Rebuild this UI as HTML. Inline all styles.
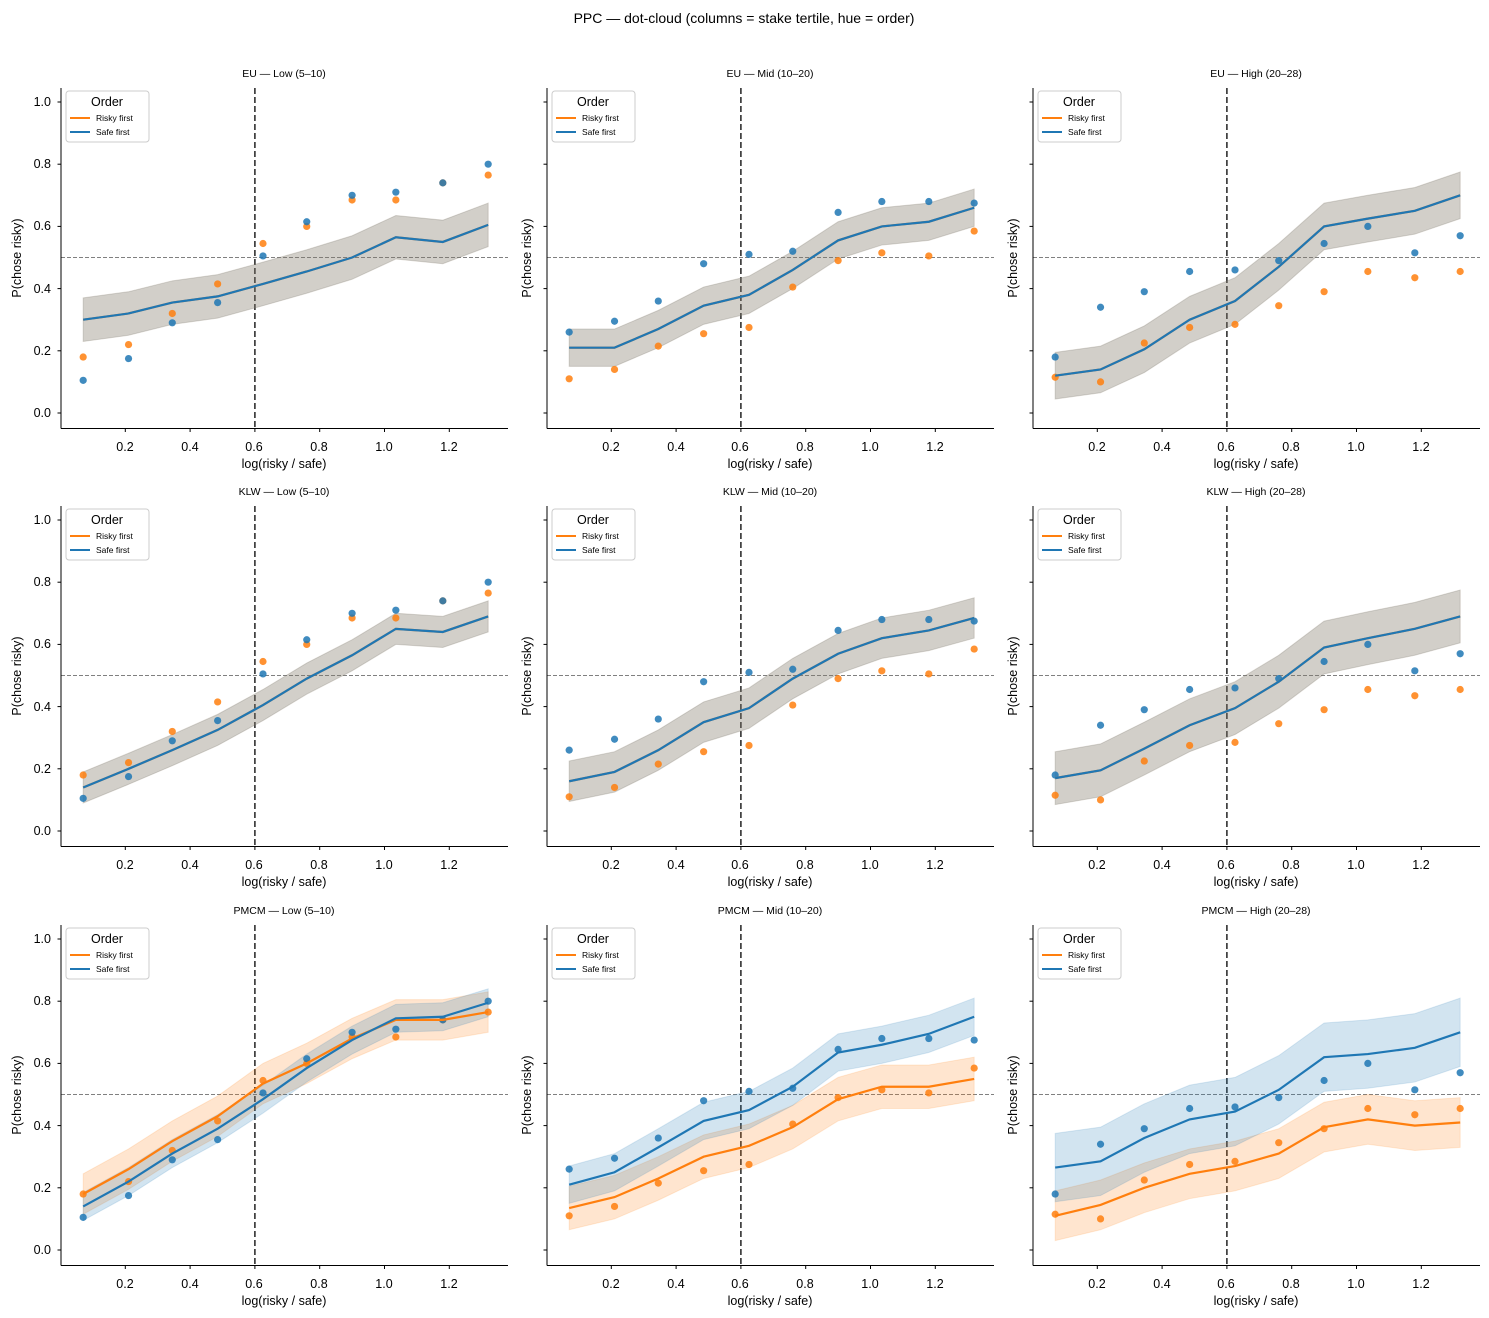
<!DOCTYPE html>
<html><head><meta charset="utf-8"><style>
body{margin:0;background:#fff}
svg{display:block;font-family:"Liberation Sans","DejaVu Sans",sans-serif}
.t{font-size:12.5px;fill:#000}
.tt{font-size:10.5px}
.lg{font-size:8.5px}
</style></head><body>
<svg id="s" width="1489" height="1318" viewBox="0 0 1489 1318" xmlns="http://www.w3.org/2000/svg">
<rect width="1489" height="1318" fill="#fff"/>
<text x="744" y="23" text-anchor="middle" font-size="14">PPC — dot-cloud  (columns = stake tertile, hue = order)</text>
<defs>
<g id="xt" class="t" text-anchor="middle">
<text x="125" y="451">0.2</text><text x="190" y="451">0.4</text><text x="254" y="451">0.6</text><text x="319" y="451">0.8</text><text x="384" y="451">1.0</text><text x="449" y="451">1.2</text>
<text x="284" y="468">log(risky / safe)</text>
</g>
<g id="yl1" class="t" text-anchor="middle"><text transform="translate(21,258) rotate(-90)">P(chose risky)</text></g>
<g id="yl2" class="t" text-anchor="middle"><text transform="translate(45,258) rotate(-90)">P(chose risky)</text></g>
<g id="yt" class="t" text-anchor="end">
<text x="51" y="417">0.0</text><text x="51" y="355">0.2</text><text x="51" y="293">0.4</text><text x="51" y="230">0.6</text><text x="51" y="168">0.8</text><text x="51" y="106">1.0</text>
</g>
<g id="lgd">
<rect x="66" y="91" width="83" height="51" rx="3" fill="#fff" fill-opacity="0.8" stroke="#ccc"/>
<text x="107" y="106" text-anchor="middle" font-size="12.5">Order</text>
<line x1="70" y1="118" x2="90" y2="118" stroke="#ff7f0e" stroke-width="2"/>
<line x1="70" y1="132" x2="90" y2="132" stroke="#1f77b4" stroke-width="2"/>
<text x="96" y="121" class="lg">Risky first</text>
<text x="96" y="135" class="lg">Safe first</text>
</g>
</defs>
<g id="p0" transform="translate(0,0)"><g id="d0"></g><use href="#xt"/><use href="#yl1"/><use href="#yt"/><use href="#lgd"/><text x="284" y="77" text-anchor="middle" class="tt">EU — Low (5–10)</text></g>
<g id="p1" transform="translate(486,0)"><g id="d1"></g><use href="#xt"/><use href="#yl2"/><use href="#lgd"/><text x="284" y="77" text-anchor="middle" class="tt">EU — Mid (10–20)</text></g>
<g id="p2" transform="translate(972,0)"><g id="d2"></g><use href="#xt"/><use href="#yl2"/><use href="#lgd"/><text x="284" y="77" text-anchor="middle" class="tt">EU — High (20–28)</text></g>
<g id="p3" transform="translate(0,418)"><g id="d3"></g><use href="#xt"/><use href="#yl1"/><use href="#yt"/><use href="#lgd"/><text x="284" y="77" text-anchor="middle" class="tt">KLW — Low (5–10)</text></g>
<g id="p4" transform="translate(486,418)"><g id="d4"></g><use href="#xt"/><use href="#yl2"/><use href="#lgd"/><text x="284" y="77" text-anchor="middle" class="tt">KLW — Mid (10–20)</text></g>
<g id="p5" transform="translate(972,418)"><g id="d5"></g><use href="#xt"/><use href="#yl2"/><use href="#lgd"/><text x="284" y="77" text-anchor="middle" class="tt">KLW — High (20–28)</text></g>
<g id="p6" transform="translate(0,837)"><g id="d6"></g><use href="#xt"/><use href="#yl1"/><use href="#yt"/><use href="#lgd"/><text x="284" y="77" text-anchor="middle" class="tt">PMCM — Low (5–10)</text></g>
<g id="p7" transform="translate(486,837)"><g id="d7"></g><use href="#xt"/><use href="#yl2"/><use href="#lgd"/><text x="284" y="77" text-anchor="middle" class="tt">PMCM — Mid (10–20)</text></g>
<g id="p8" transform="translate(972,837)"><g id="d8"></g><use href="#xt"/><use href="#yl2"/><use href="#lgd"/><text x="284" y="77" text-anchor="middle" class="tt">PMCM — High (20–28)</text></g>
</svg>
<script>
var NS="http://www.w3.org/2000/svg";
var xs=[0.07,0.21,0.345,0.485,0.625,0.76,0.90,1.035,1.18,1.32];
function X(v){return 60.5+v*324} function Y(v){return 413-v*311}
var dots=[
 {b:[0.105,0.175,0.29,0.355,0.505,0.615,0.70,0.71,0.74,0.80],o:[0.18,0.22,0.32,0.415,0.545,0.60,0.685,0.685,0.74,0.765]},
 {b:[0.26,0.295,0.36,0.48,0.51,0.52,0.645,0.68,0.68,0.675],o:[0.11,0.14,0.215,0.255,0.275,0.405,0.49,0.515,0.505,0.585]},
 {b:[0.18,0.34,0.39,0.455,0.46,0.49,0.545,0.60,0.515,0.57],o:[0.115,0.10,0.225,0.275,0.285,0.345,0.39,0.455,0.435,0.455]}];
function same(a,d){return {b:a,o:a,db:d,do_:d}}
var lines=[
 same([0.30,0.32,0.355,0.375,0.415,0.455,0.50,0.565,0.55,0.605],0.07),
 same([0.21,0.21,0.27,0.345,0.38,0.46,0.555,0.60,0.615,0.66],0.06),
 same([0.12,0.14,0.205,0.30,0.36,0.47,0.60,0.625,0.65,0.70],0.075),
 same([0.14,0.20,0.26,0.325,0.405,0.49,0.565,0.65,0.64,0.69],0.05),
 same([0.16,0.19,0.26,0.35,0.395,0.49,0.57,0.62,0.645,0.685],0.065),
 same([0.17,0.195,0.265,0.34,0.395,0.48,0.59,0.62,0.65,0.69],0.085),
 {b:[0.14,0.22,0.31,0.39,0.485,0.585,0.675,0.745,0.75,0.795],o:[0.18,0.26,0.35,0.43,0.535,0.60,0.68,0.74,0.74,0.765],db:0.045,do_:0.065},
 {b:[0.21,0.25,0.33,0.415,0.45,0.525,0.635,0.66,0.695,0.75],o:[0.135,0.17,0.23,0.30,0.335,0.395,0.485,0.525,0.525,0.55],db:0.06,do_:0.07},
 {b:[0.265,0.285,0.36,0.42,0.445,0.515,0.62,0.63,0.65,0.70],o:[0.11,0.145,0.20,0.245,0.27,0.31,0.395,0.42,0.40,0.41],db:0.11,do_:0.08}];
function el(g,t,a){var e=document.createElementNS(NS,t);for(var k in a)e.setAttribute(k,a[k]);g.appendChild(e);return e}
function band(g,a,d,c){var p=[];for(var i=0;i<10;i++)p.push(X(xs[i])+","+Y(a[i]+d));for(var i=9;i>=0;i--)p.push(X(xs[i])+","+Y(a[i]-d));el(g,"polygon",{points:p.join(" "),fill:c,"fill-opacity":0.2,stroke:c,"stroke-opacity":0.15})}
function line(g,a,c){el(g,"polyline",{points:a.map(function(v,i){return X(xs[i])+","+Y(v)}).join(" "),fill:"none",stroke:c,"stroke-width":2.2})}
for(var p=0;p<9;p++){
 var g=document.getElementById("d"+p),D=dots[p%3],L=lines[p];
 el(g,"line",{x1:61,x2:508,y1:Y(0.5),y2:Y(0.5),stroke:"#808080","stroke-dasharray":"4,2","stroke-width":1});
 el(g,"line",{x1:X(0.6),x2:X(0.6),y1:88,y2:428,stroke:"#222","stroke-dasharray":"6,3","stroke-width":1.5});
 band(g,L.o,L.do_,"#ff7f0e");band(g,L.b,L.db,"#1f77b4");
 for(var i=0;i<10;i++){el(g,"circle",{cx:X(xs[i]),cy:Y(D.o[i]),r:3.6,fill:"#ff7f0e","fill-opacity":0.85});}
 for(var i=0;i<10;i++){el(g,"circle",{cx:X(xs[i]),cy:Y(D.b[i]),r:3.6,fill:"#1f77b4","fill-opacity":0.85});}
 line(g,L.o,"#ff7f0e");line(g,L.b,"#1f77b4");
 el(g,"line",{x1:61,x2:61,y1:88,y2:428.5,stroke:"#000","stroke-width":1});
 el(g,"line",{x1:61,x2:508,y1:428.5,y2:428.5,stroke:"#000","stroke-width":1});
 [0.2,0.4,0.6,0.8,1.0,1.2].forEach(function(v){el(g,"line",{x1:X(v),x2:X(v),y1:428.5,y2:432,stroke:"#000"})});
 [0,0.2,0.4,0.6,0.8,1.0].forEach(function(v){el(g,"line",{x1:57.5,x2:61,y1:Y(v),y2:Y(v),stroke:"#000"})});
}
</script>
</body></html>
